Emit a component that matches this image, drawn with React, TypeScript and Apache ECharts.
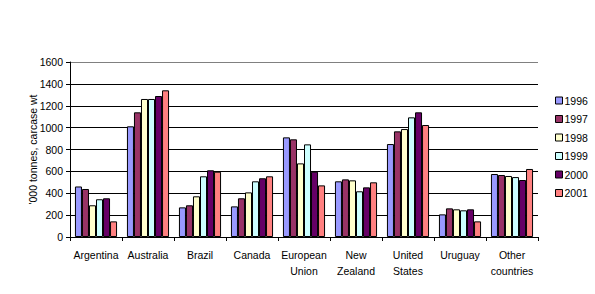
import React, { useEffect, useRef } from "react";
import * as echarts from "echarts";

const categories = [
  "Argentina",
  "Australia",
  "Brazil",
  "Canada",
  "European\nUnion",
  "New\nZealand",
  "United\nStates",
  "Uruguay",
  "Other\ncountries",
];

const years = ["1996", "1997", "1998", "1999", "2000", "2001"];

const v1996 = [462, 1012, 271, 280, 911, 509, 850, 207, 576];
const v1997 = [439, 1140, 290, 354, 893, 527, 966, 262, 567];
const v1998 = [290, 1262, 372, 408, 673, 518, 987, 253, 558];
const v1999 = [345, 1262, 555, 509, 847, 418, 1094, 244, 548];
const v2000 = [354, 1289, 610, 537, 597, 454, 1140, 253, 521];
const v2001 = [143, 1341, 597, 555, 472, 500, 1024, 143, 622];

const seriesValues = [v1996, v1997, v1998, v1999, v2000, v2001];
const colors = ["#9999FF", "#993366", "#FFFFCC", "#CCFFFF", "#660066", "#FF8080"];

const yTicks = [0, 200, 400, 600, 800, 1000, 1200, 1400, 1600];

const FONT = "'Liberation Sans', Arial, sans-serif";
const FS = 10.5;

export default function App() {
  const ref = useRef<HTMLDivElement>(null);
  useEffect(() => {
    if (!ref.current) return;
    const chart = echarts.init(ref.current, null, { renderer: "svg" });
    const splitColors = yTicks.map((t, i) => (i === yTicks.length - 1 ? "#808080" : "#000000"));
    chart.setOption({
      animation: false,
      backgroundColor: "#ffffff",
      textStyle: { fontFamily: FONT, color: "#000" },
      grid: { left: 70, right: 57, top: 62, bottom: 57, containLabel: false },
      legend: {
        orient: "vertical",
        left: 550,
        top: 90,
        itemWidth: 7,
        itemHeight: 7,
        itemGap: 7.5,
        icon: "rect",
        data: years,
        itemStyle: { borderColor: "#000", borderWidth: 1 },
        textStyle: { fontFamily: FONT, fontSize: FS, color: "#000", padding: [0, 0, 0, -3] },
        selectedMode: false,
      },
      xAxis: {
        type: "category",
        data: categories,
        boundaryGap: true,
        axisLine: { lineStyle: { color: "#000", width: 1 } },
        axisTick: { show: true, inside: false, length: 4, alignWithLabel: false, lineStyle: { color: "#000" } },
        axisLabel: {
          interval: 0,
          fontFamily: FONT,
          fontSize: FS,
          color: "#000",
          margin: 10,
          lineHeight: 16,
        },
      },
      yAxis: {
        type: "value",
        min: 0,
        max: 1600,
        interval: 200,
        name: "'000 tonnes, carcase wt",
        nameLocation: "middle",
        nameGap: 32,
        nameMoveOverlap: false,
        nameRotate: 90,
        nameTextStyle: { fontFamily: FONT, fontSize: FS, color: "#000" },
        axisLine: { show: true, lineStyle: { color: "#000", width: 1 } },
        axisTick: { show: true, length: 4, lineStyle: { color: "#000" } },
        axisLabel: {
          fontFamily: FONT,
          fontSize: FS,
          color: "#000",
          margin: 7,
          formatter: (v: number) => String(v),
        },
        splitLine: { show: true, lineStyle: { color: splitColors, width: 1 } },
      },
      series: years.map((y, i) => ({
        name: y,
        type: "bar",
        data: seriesValues[i],
        barGap: "0%",
        barCategoryGap: "19%",
        itemStyle: { color: colors[i], borderColor: "#000", borderWidth: 1 },
      })),
    });
    return () => chart.dispose();
  }, []);
  return (
    <div
      ref={ref}
      style={{ position: "fixed", left: 0, top: 0, width: 595, height: 294, background: "#fff" }}
    />
  );
}
